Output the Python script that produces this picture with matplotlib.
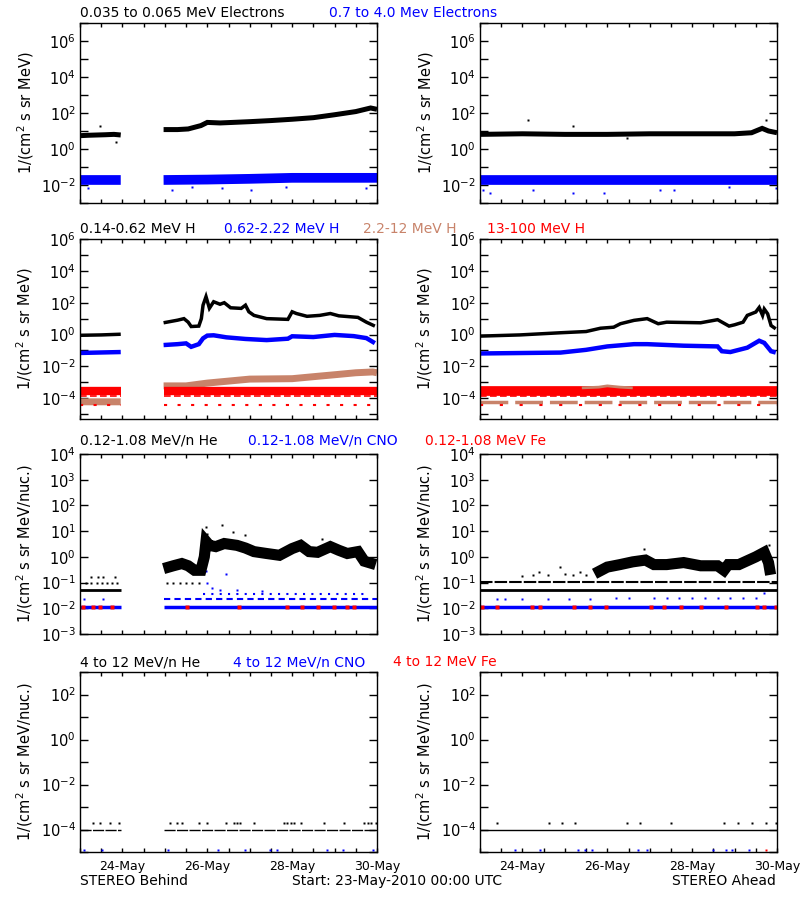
import numpy as np
import matplotlib
matplotlib.use('Agg')
import matplotlib.pyplot as plt
from matplotlib.ticker import FixedLocator, FuncFormatter

nan = np.nan
BLACK = '#000000'
BLUE = '#0000ff'
BROWN = '#c8836a'
RED = '#ff0000'

# ---------------- x axis (days since 23-May-2010 00:00) ----------------
date_ticks = [1, 3, 5, 7]
date_labels = ['24-May', '26-May', '28-May', '30-May']

# ---------------- Row 1 : electrons ----------------
eB_lo_t = [0.0, 0.2, 0.4, 0.6, 0.8, 0.96, 1.5, 1.97, 2.3, 2.55, 2.85, 3.0, 3.3, 3.6, 4.0, 4.5, 5.0, 5.5, 6.0, 6.5, 6.85, 7.0]
eB_lo_v = [5.5, 5.8, 6.0, 6.2, 6.5, 6.0, nan, 12, 12, 13, 20, 30, 28, 30, 33, 38, 45, 55, 80, 120, 190, 160]
eB_hi_t = [0.0, 0.96, 1.5, 1.97, 3.0, 4.0, 5.0, 6.0, 7.0]
eB_hi_v = [0.019, 0.019, nan, 0.019, 0.02, 0.022, 0.025, 0.025, 0.025]
eB_hi_out_t = [0.2, 2.17, 2.64, 3.35, 4.02, 4.85, 6.74]
eB_hi_out_v = [0.0065, 0.005, 0.008, 0.0065, 0.005, 0.008, 0.0065]
eB_lo_out_t = [0.47, 0.86]
eB_lo_out_v = [18, 2.6]

eA_lo_t = [0.0, 1.0, 2.0, 3.0, 4.0, 5.0, 5.5, 6.0, 6.4, 6.65, 6.8, 7.0]
eA_lo_v = [6.5, 7, 6.5, 6.5, 7, 7, 7, 7, 8, 14, 10, 8]
eA_lo_out_t = [1.14, 2.2, 6.74, 3.47]
eA_lo_out_v = [42, 18, 42, 4]
eA_hi_t = [0.0, 7.0]
eA_hi_v = [0.02, 0.02]
eA_hi_out_t = [0.08, 0.24, 1.26, 2.2, 2.92, 4.25, 4.57, 5.87, 6.97]
eA_hi_out_v = [0.005, 0.0034, 0.005, 0.0034, 0.0034, 0.005, 0.005, 0.008, 0.0065]

# ---------------- Row 2 : protons ----------------
pB1_t = [0.0, 0.5, 0.96, 1.5, 1.97, 2.3, 2.45, 2.55, 2.62, 2.8, 2.86, 2.9, 2.97, 3.05, 3.15, 3.3, 3.4, 3.55, 3.8, 3.9, 3.98, 4.1, 4.4, 4.9, 5.0, 5.1, 5.35, 5.65, 5.9, 6.1, 6.55, 6.75, 6.95]
pB1_v = [0.9, 0.95, 1.05, nan, 5.5, 8, 10, 6, 3.2, 3.4, 10, 70, 240, 45, 115, 80, 100, 48, 44, 70, 27, 16, 10, 9, 27, 21, 14, 16, 21, 15, 12, 6, 3.4]
pB2_t = [0.0, 0.96, 1.5, 1.97, 2.3, 2.5, 2.62, 2.8, 2.9, 3.0, 3.15, 3.45, 3.9, 4.4, 4.9, 5.0, 5.5, 6.0, 6.45, 6.75, 6.95]
pB2_v = [0.07, 0.08, nan, 0.22, 0.25, 0.28, 0.17, 0.25, 0.58, 0.86, 0.9, 0.67, 0.53, 0.45, 0.55, 0.78, 0.7, 0.95, 0.8, 0.6, 0.29]
pB3_t = [0.0, 0.96, 1.5, 1.97, 2.5, 3.0, 3.5, 4.0, 5.0, 5.6, 6.0, 6.5, 6.9, 7.0]
pB3_v = [6e-5, 6e-5, nan, 6e-4, 6e-4, 9e-4, 1.2e-3, 1.6e-3, 1.7e-3, 2.4e-3, 3e-3, 4e-3, 4.5e-3, 4e-3]
pB4_t = [0.0, 0.96, 1.5, 1.97, 7.0]
pB4_v = [2.8e-4, 2.8e-4, nan, 2.8e-4, 2.8e-4]

pA1_t = [0.0, 0.94, 1.9, 2.5, 2.84, 3.15, 3.31, 3.63, 3.94, 4.2, 4.4, 5.2, 5.6, 5.87, 6.0, 6.2, 6.3, 6.5, 6.58, 6.66, 6.7, 6.78, 6.86, 6.97]
pA1_v = [0.8, 0.95, 1.3, 1.55, 2.5, 2.9, 4.8, 7.8, 10, 4.8, 6, 5.5, 8.6, 3.4, 4.1, 6, 16, 26, 50, 16, 40, 20, 3.7, 2.3]
pA2_t = [0.0, 1.9, 2.5, 3.0, 3.63, 3.94, 4.8, 5.6, 5.7, 5.9, 6.3, 6.58, 6.7, 6.86, 6.97]
pA2_v = [0.065, 0.074, 0.11, 0.18, 0.25, 0.25, 0.2, 0.18, 0.09, 0.08, 0.15, 0.41, 0.3, 0.09, 0.074]
pA3_t = [0.0, 7.0]
pA3_v = [6e-5, 6e-5]
pA3b_t = [2.4, 2.8, 3.0, 3.3, 3.6]
pA3b_v = [4.5e-4, 5e-4, 6e-4, 5e-4, 4.5e-4]
pA4_t = [0.0, 7.0]
pA4_v = [3e-4, 3e-4]

# ---------------- Row 3 : 0.12-1.08 MeV/n ions ----------------
hB_pre_t = [0.0, 0.96]
hB_pre_v = [0.05, 0.05]
hB_t = [1.97, 2.2, 2.4, 2.55, 2.7, 2.85, 2.93, 2.97, 3.05, 3.2, 3.4, 3.7, 3.9, 4.1, 4.4, 4.7, 5.0, 5.2, 5.4, 5.6, 5.9, 6.1, 6.3, 6.55, 6.7, 6.97]
hB_v = [0.35, 0.45, 0.55, 0.45, 0.3, 0.3, 1.0, 4, 2.8, 2.5, 3.3, 2.8, 2.2, 1.6, 1.35, 1.15, 2.1, 2.8, 1.6, 1.5, 2.5, 1.8, 1.35, 1.6, 0.68, 0.5]
hB_dot_t = [0.15, 0.27, 0.39, 0.51, 0.63, 0.75, 0.87, 2.05, 2.2, 2.35, 2.5, 2.65, 2.8, 0.27, 0.43, 0.55, 0.82, 2.96, 3.35, 3.9, 5.7, 3.0, 2.93, 3.6, 5.2]
hB_dot_v = [0.1, 0.1, 0.1, 0.1, 0.1, 0.1, 0.1, 0.1, 0.1, 0.1, 0.1, 0.1, 0.1, 0.16, 0.16, 0.16, 0.16, 15, 17, 7, 5, 8, 5, 9, 4]
cB_t = [0.0, 0.96, 1.5, 1.97, 7.0]
cB_v = [0.011, 0.011, nan, 0.011, 0.011]
cB2_t = [1.97, 7.0]
cB2_v = [0.023, 0.023]
cB3_t = [2.9, 6.8]
cB3_v = [0.035, 0.035]
cB_dot_t = [0.1, 0.54, 2.96, 3.43, 3.1, 3.3, 3.0, 3.7, 4.3]
cB_dot_v = [0.023, 0.023, 0.28, 0.22, 0.06, 0.05, 0.1, 0.05, 0.045]
fB_t = [0.08, 0.31, 0.47, 0.75, 2.52, 3.74, 4.89, 5.24, 5.6, 5.99, 6.3, 6.46]
fB_v = [0.011, 0.011, 0.011, 0.011, 0.011, 0.011, 0.011, 0.011, 0.011, 0.011, 0.011, 0.011]

hA1_t = [0.0, 7.0]
hA1_v = [0.05, 0.05]
hA2_t = [0.0, 7.0]
hA2_v = [0.11, 0.11]
hA_t = [2.7, 3.0, 3.3, 3.6, 3.9, 4.1, 4.4, 4.8, 5.2, 5.6, 5.75, 5.85, 6.1, 6.5, 6.7, 6.8, 6.85]
hA_v = [0.22, 0.4, 0.5, 0.64, 0.75, 0.5, 0.5, 0.6, 0.45, 0.45, 0.3, 0.5, 0.5, 1.0, 1.5, 0.6, 0.2]
hA_dot_t = [1.25, 1.4, 1.6, 1.89, 2.2, 2.5, 3.86, 6.82, 1.0, 2.0, 2.35]
hA_dot_v = [0.2, 0.25, 0.2, 0.41, 0.2, 0.2, 2.0, 3.0, 0.18, 0.22, 0.25]
cA_t = [0.0, 7.0]
cA_v = [0.011, 0.011]
cA_dot_t = [0.4, 0.6, 1.0, 1.6, 2.1, 2.6, 3.2, 3.5, 4.1, 4.4, 4.7, 5.0, 5.3, 5.6, 5.9, 6.2, 6.5, 6.7]
cA_dot_v = [0.023, 0.023, 0.023, 0.023, 0.023, 0.023, 0.025, 0.025, 0.025, 0.025, 0.025, 0.025, 0.025, 0.025, 0.025, 0.025, 0.025, 0.04]
fA_t = [0.04, 0.39, 1.22, 1.42, 2.21, 2.6, 2.96, 4.02, 4.33, 4.73, 5.2, 5.79, 6.54, 6.7, 6.97]
fA_v = [0.011] * 15

# ---------------- Row 4 : 4-12 MeV/n ions ----------------
hB4_line_t = [0.0, 0.96, 1.5, 1.97, 7.0]
hB4_line_v = [1e-4, 1e-4, nan, 1e-4, 1e-4]
hB4_dot_t = [0.31, 0.47, 0.71, 0.91, 2.13, 2.28, 2.4, 2.8, 2.99, 3.43, 3.62, 3.7, 3.78, 4.1, 4.81, 4.89, 4.97, 5.04, 5.2, 5.75, 6.23, 6.7, 6.78, 6.86, 6.97]
hB4_dot_v = [2e-4] * 25
cB4_dot_t = [0.09, 0.51, 2.07, 3.25, 3.9, 4.48, 4.65, 5.83, 6.21, 6.9]
cB4_dot_v = [1.2e-5] * 10

hA4_line_t = [0.0, 7.0]
hA4_line_v = [1e-4, 1e-4]
hA4_dot_t = [0.39, 1.62, 1.93, 2.25, 3.47, 3.78, 4.49, 5.75, 6.07, 6.42, 6.74, 6.97]
hA4_dot_v = [2e-4] * 12
cA4_dot_t = [0.83, 1.42, 2.31, 2.48, 2.64, 3.73, 3.94, 5.48, 5.79, 5.95, 6.34]
cA4_dot_v = [1.2e-5] * 11
fA4_dot_t = [6.74]
fA4_dot_v = [1.2e-5]

# ---------------- titles ----------------
row_titles = [
    [('0.035 to 0.065 MeV Electrons', BLACK, 80), ('0.7 to 4.0 Mev Electrons', BLUE, 329)],
    [('0.14-0.62 MeV H', BLACK, 80), ('0.62-2.22 MeV H', BLUE, 224), ('2.2-12 MeV H', BROWN, 363), ('13-100 MeV H', RED, 487)],
    [('0.12-1.08 MeV/n He', BLACK, 80), ('0.12-1.08 MeV/n CNO', BLUE, 248), ('0.12-1.08 MeV Fe', RED, 425)],
    [('4 to 12 MeV/n He', BLACK, 80), ('4 to 12 MeV/n CNO', BLUE, 233), ('4 to 12 MeV Fe', RED, 393)],
]
ylabels = ['1/(cm$^2$ s sr MeV)', '1/(cm$^2$ s sr MeV)',
           '1/(cm$^2$ s sr MeV/nuc.)', '1/(cm$^2$ s sr MeV/nuc.)']

# ---------------- layout ----------------
W, H = 800, 900
fig = plt.figure(figsize=(8, 9), dpi=100)
plt.rcParams['font.family'] = ['DejaVu Sans']
FS = 9.5

row_tops = [23, 239, 454, 672]
row_h = 180
col_left = [80, 480]
col_w = 297
ylims = [(1e-3, 1e7), (5e-6, 1e6), (1e-3, 1e4), (1e-5, 1e3)]
ydec = [(-3, 7), (-5, 6), (-3, 4), (-5, 3)]
ylab = [[-2, 0, 2, 4, 6], [-4, -2, 0, 2, 4, 6], [-3, -2, -1, 0, 1, 2, 3, 4], [-4, -2, 0, 2]]

axes = {}
for r in range(4):
    for c in range(2):
        ax = fig.add_axes([col_left[c] / W, 1 - (row_tops[r] + row_h) / H, col_w / W, row_h / H])
        ax.set_yscale('log')
        ax.set_xlim(0, 7)
        ax.set_ylim(*ylims[r])
        lo, hi = ydec[r]
        locs = [10.0 ** k for k in range(lo, hi + 1)]
        labeled = set(ylab[r])
        ax.yaxis.set_major_locator(FixedLocator(locs))
        ax.yaxis.set_minor_locator(FixedLocator([]))
        ax.yaxis.set_major_formatter(FuncFormatter(
            lambda v, p, labeled=labeled: (r'$10^{%d}$' % round(np.log10(v))) if round(np.log10(v)) in labeled else ''))
        ax.set_xticks([0.5 * k for k in range(15)])
        if r == 3:
            ax.set_xticklabels(['' if (0.5 * k) not in date_ticks else date_labels[date_ticks.index(0.5 * k)] for k in range(15)])
        else:
            ax.set_xticklabels([])
        ax.tick_params(axis='y', direction='in', length=6, width=1, right=True, labelsize=FS + 1, pad=3)
        ax.tick_params(axis='x', direction='in', length=3, width=1, top=True, labelsize=FS - 0.5, pad=6)
        for s in ax.spines.values():
            s.set_linewidth(1)
        ax.set_ylabel(ylabels[r], fontsize=FS + 1, labelpad=4)
        axes[(r, c)] = ax


def band(ax, t, v, color, lw, ls='-'):
    ax.plot(t, v, color=color, lw=lw, ls=ls, solid_capstyle='butt', solid_joinstyle='miter')


def dots(ax, t, v, color, ms=2.0):
    ax.plot(t, v, ls='none', marker='s', ms=ms, color=color, mec='none')


# Row 1
ax = axes[(0, 0)]
band(ax, eB_lo_t, eB_lo_v, BLACK, 3.6)
band(ax, eB_hi_t, eB_hi_v, BLUE, 7)
dots(ax, eB_hi_out_t, eB_hi_out_v, BLUE)
dots(ax, eB_lo_out_t, eB_lo_out_v, BLACK)
ax = axes[(0, 1)]
band(ax, eA_lo_t, eA_lo_v, BLACK, 3.6)
band(ax, eA_hi_t, eA_hi_v, BLUE, 7)
dots(ax, eA_hi_out_t, eA_hi_out_v, BLUE)
dots(ax, eA_lo_out_t, eA_lo_out_v, BLACK)

# Row 2
ax = axes[(1, 0)]
band(ax, pB3_t, pB3_v, BROWN, 5)
band(ax, pB4_t, pB4_v, RED, 6)
band(ax, [0.0, 0.96], [1.3e-4, 1.3e-4], RED, 1.2, ls=(0, (4, 2)))
band(ax, [1.97, 7.0], [1.3e-4, 1.3e-4], RED, 1.2, ls=(0, (4, 2)))
band(ax, [0.0, 0.96], [3.6e-5, 3.6e-5], RED, 1.5, ls=(0, (1.5, 5)))
band(ax, [1.97, 7.0], [3.6e-5, 3.6e-5], RED, 1.5, ls=(0, (1.5, 5)))
band(ax, pB2_t, pB2_v, BLUE, 3.2)
band(ax, pB1_t, pB1_v, BLACK, 2.5)
ax = axes[(1, 1)]
band(ax, pA3_t, pA3_v, BROWN, 2.5, ls=(0, (8, 2)))
band(ax, pA4_t, pA4_v, RED, 7)
band(ax, pA3b_t, pA3b_v, BROWN, 2)
band(ax, [0.0, 7.0], [1.3e-4, 1.3e-4], RED, 1.2, ls=(0, (4, 2)))
band(ax, [0.0, 7.0], [4e-5, 4e-5], RED, 1.5, ls=(0, (1.5, 8)))
band(ax, pA2_t, pA2_v, BLUE, 3.2)
band(ax, pA1_t, pA1_v, BLACK, 2.5)

# Row 3
ax = axes[(2, 0)]
band(ax, cB_t, cB_v, BLUE, 2.5)
dots(ax, fB_t, fB_v, RED, 2.5)
band(ax, cB2_t, cB2_v, BLUE, 1.5, ls=(0, (3, 2)))
band(ax, cB3_t, cB3_v, BLUE, 1.5, ls=(0, (1, 3)))
dots(ax, cB_dot_t, cB_dot_v, BLUE)
band(ax, hB_pre_t, hB_pre_v, BLACK, 2)
band(ax, hB_t, hB_v, BLACK, 8)
dots(ax, hB_dot_t, hB_dot_v, BLACK)
ax = axes[(2, 1)]
band(ax, cA_t, cA_v, BLUE, 2.5)
dots(ax, fA_t, fA_v, RED, 2.5)
dots(ax, cA_dot_t, cA_dot_v, BLUE)
band(ax, hA1_t, hA1_v, BLACK, 2)
band(ax, hA2_t, hA2_v, BLACK, 1.5, ls=(0, (6, 1)))
band(ax, hA_t, hA_v, BLACK, 8)
dots(ax, hA_dot_t, hA_dot_v, BLACK)

# Row 4
ax = axes[(3, 0)]
band(ax, hB4_line_t, hB4_line_v, BLACK, 1, ls=(0, (8, 1)))
dots(ax, hB4_dot_t, hB4_dot_v, BLACK)
dots(ax, cB4_dot_t, cB4_dot_v, BLUE)
ax = axes[(3, 1)]
band(ax, hA4_line_t, hA4_line_v, BLACK, 1)
dots(ax, hA4_dot_t, hA4_dot_v, BLACK)
dots(ax, cA4_dot_t, cA4_dot_v, BLUE)
dots(ax, fA4_dot_t, fA4_dot_v, RED)

# titles
title_y = [13, 229, 441, 662]
for r in range(4):
    for txt, col, x in row_titles[r]:
        fig.text(x / W, 1 - title_y[r] / H, txt, color=col, fontsize=FS + 0.5, ha='left', va='center')

fig.text(80 / W, 1 - 881 / H, 'STEREO Behind', fontsize=FS + 0.5, ha='left', va='center')
fig.text(292 / W, 1 - 881 / H, 'Start: 23-May-2010 00:00 UTC', fontsize=FS + 0.5, ha='left', va='center')
fig.text(776 / W, 1 - 881 / H, 'STEREO Ahead', fontsize=FS + 0.5, ha='right', va='center')

fig.savefig('out.png', dpi=100, facecolor='white')
